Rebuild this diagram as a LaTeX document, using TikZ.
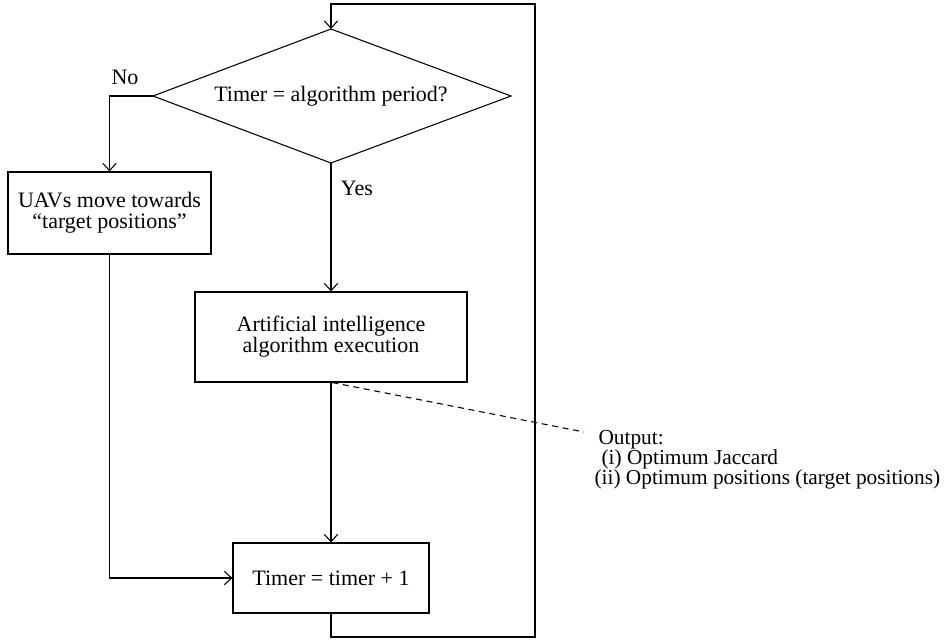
\documentclass[tikz,border=0pt]{standalone}
\usepackage{fontspec}
\setmainfont{Liberation Serif}
\usetikzlibrary{arrows.meta}
\begin{document}
\begin{tikzpicture}[x=0.75pt,y=-0.75pt,
  line width=0.8pt,
  every node/.style={font=\fontsize{16.5}{15.75}\selectfont},
  procbox/.style={draw, align=center, inner sep=0pt},
  flow/.style={-{Straight Barb[length=5.5pt,width=10pt]}},
  lbl/.style={inner sep=0pt},
  notetext/.style={inner sep=0pt, anchor=base west, font=\fontsize{16}{15.5}\selectfont}
]
\useasboundingbox (0,0) rectangle (948,642);

% decision diamond
\coordinate (qt) at (331,29);
\coordinate (qr) at (511,96);
\coordinate (qb) at (331,163);
\coordinate (ql) at (153,96);
\draw (qt) -- (qr) -- (qb) -- (ql) -- cycle;
\node[lbl] (q) at (331,96) {Timer = algorithm period?};

% process boxes
\node[procbox, minimum width=152.25pt, minimum height=61.5pt] (uav) at (109.5,213)
  {UAVs move towards\\“target positions”};
\node[procbox, minimum width=204pt, minimum height=67.5pt] (ai) at (331,337)
  {Artificial intelligence\\algorithm execution};
\node[procbox, minimum width=147pt, minimum height=52.5pt] (tm) at (331,578)
  {Timer = timer + 1};

% branch labels
\node[lbl] (no) at (125,77) {No};
\node[lbl] (yes) at (357,188) {Yes};

% output note
\node[notetext] (out0) at (598,444) {Output:};
\node[notetext] (out1) at (601,464) {(i) Optimum Jaccard};
\node[notetext] (out2) at (594,484) {(ii) Optimum positions (target positions)};
\coordinate (dashend) at (584,432);

% connectors
\coordinate (lbr) at (535,637);
\coordinate (ltr) at (535,4);
\draw[flow] (tm.south) |- (lbr) -- (ltr) -| (qt);
\draw[flow] (ql) -| (uav.north);
\draw[flow] (qb) -- (ai.north);
\draw[flow] (ai.south) -- (tm.north);
\draw[flow] (uav.south) |- (tm.west);
\draw[dash pattern=on 4.5pt off 3.5pt] ([xshift=1pt]ai.south) -- (dashend);
\end{tikzpicture}
\end{document}
